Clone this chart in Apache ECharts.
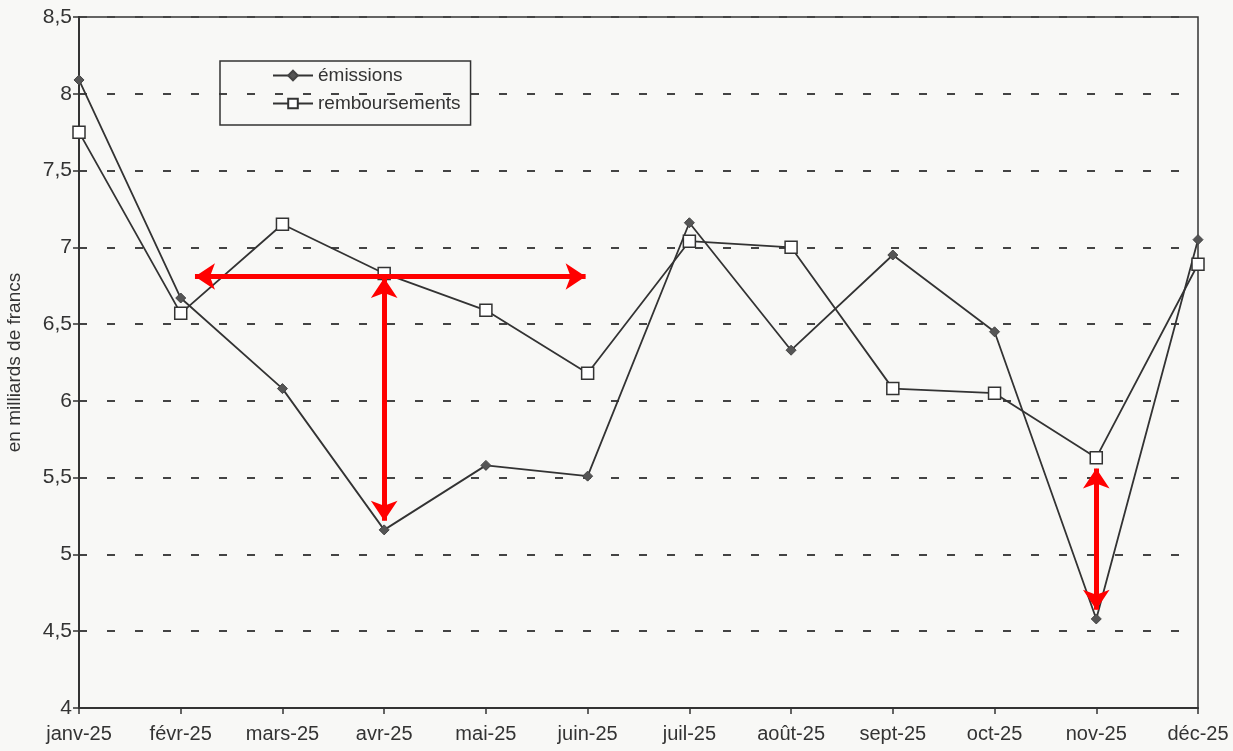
<!DOCTYPE html>
<html>
<head>
<meta charset="utf-8">
<script src="https://cdn.jsdelivr.net/npm/echarts@6/dist/echarts.min.js"></script>
<style>
  html, body { margin: 0; padding: 0; background: #f8f8f6; }
  #chart { width: 1233px; height: 751px; }
</style>
</head>
<body>
<div id="chart"></div>
<script>
const months = ['janv-25', 'févr-25', 'mars-25', 'avr-25', 'mai-25', 'juin-25',
  'juil-25', 'août-25', 'sept-25', 'oct-25', 'nov-25', 'déc-25']
const emissions = [8.09, 6.67, 6.08, 5.16, 5.58, 5.51, 7.16, 6.33, 6.95, 6.45, 4.58, 7.05]
const remboursements = [7.75, 6.57, 7.15, 6.83, 6.59, 6.18, 7.04, 7.0, 6.08, 6.05, 5.63, 6.89]

// red annotation arrows: [x1, y1, x2, y2] in month index / value units
const arrows = [
  [1.14, 6.81, 4.98, 6.81],
  [3, 6.80, 3, 5.22],
  [10, 5.56, 10, 4.64]
]

const chart = echarts.init(document.getElementById('chart'))

const toPoints = vals => vals.map((v, i) => [i, v])

chart.setOption({
  animation: false,
  backgroundColor: '#f8f8f6',
  textStyle: { fontFamily: 'Liberation Sans, Arial, sans-serif' },
  grid: {
    left: 79,
    right: 35,
    top: 17,
    bottom: 43,
    outerBoundsMode: 'none',
    show: true,
    borderColor: '#333',
    borderWidth: 1.5,
    backgroundColor: 'transparent'
  },
  legend: {
    orient: 'vertical',
    left: 220,
    top: 61,
    padding: [5, 10, 12, 52],
    itemWidth: 40,
    itemHeight: 12,
    itemGap: 9,
    borderColor: '#333',
    borderWidth: 1.5,
    textStyle: { fontSize: 19, color: '#333' },
    data: ['émissions', 'remboursements']
  },
  xAxis: {
    type: 'value',
    min: 0,
    max: 11,
    interval: 1,
    axisLine: { lineStyle: { color: '#333', width: 2 } },
    axisTick: { length: 6, lineStyle: { color: '#333', width: 1.5 } },
    axisLabel: {
      fontSize: 20,
      color: '#333',
      margin: 16,
      formatter: v => months[v] || ''
    },
    splitLine: { show: false }
  },
  yAxis: {
    type: 'value',
    min: 4,
    max: 8.5,
    interval: 0.5,
    name: 'en milliards de francs',
    nameLocation: 'middle',
    nameGap: 55,
    nameTextStyle: { fontSize: 19, color: '#333' },
    axisLine: { show: true, lineStyle: { color: '#333', width: 2 } },
    axisTick: { show: true, length: 6, lineStyle: { color: '#333', width: 1.5 } },
    axisLabel: {
      fontSize: 21,
      color: '#333',
      margin: 7,
      formatter: v => String(v).replace('.', ',')
    },
    splitLine: {
      lineStyle: { color: '#444', width: 2, type: [8, 20] }
    }
  },
  series: [
    {
      name: 'émissions',
      type: 'line',
      data: toPoints(emissions),
      symbol: 'diamond',
      symbolSize: 10,
      itemStyle: { color: '#555', borderColor: '#444', borderWidth: 1 },
      lineStyle: { color: '#333', width: 1.8 },
      markLine: {
        silent: true,
        symbol: ['arrow', 'arrow'],
        symbolSize: 20,
        label: { show: false },
        lineStyle: { color: '#ff0000', width: 5, type: 'solid' },
        emphasis: { disabled: true },
        data: arrows.map(a => [{ coord: [a[0], a[1]] }, { coord: [a[2], a[3]] }])
      }
    },
    {
      name: 'remboursements',
      type: 'line',
      data: toPoints(remboursements),
      symbol: 'rect',
      symbolSize: 12,
      itemStyle: { color: '#fff', borderColor: '#333', borderWidth: 1.5 },
      lineStyle: { color: '#333', width: 1.8 }
    }
  ]
})
</script>
</body>
</html>
